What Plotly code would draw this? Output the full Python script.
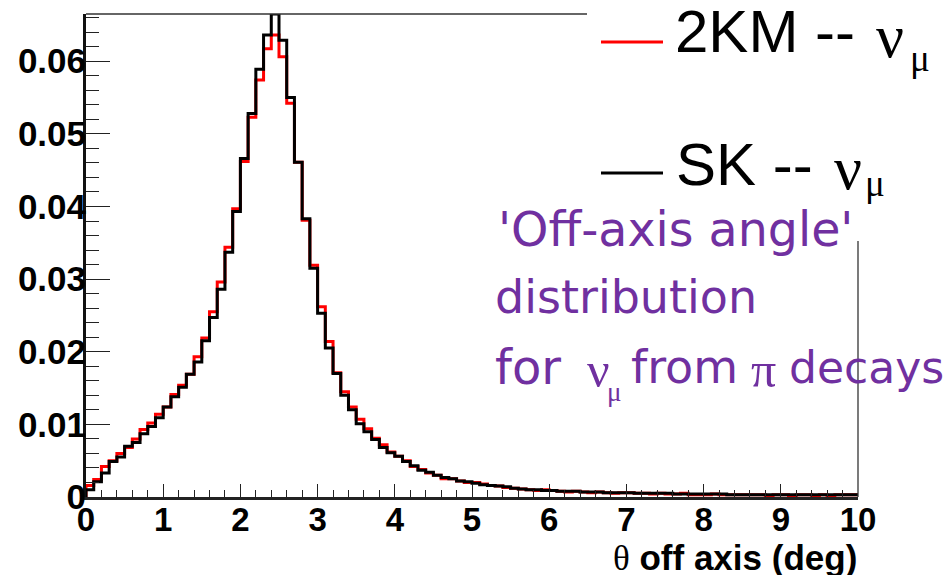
import numpy as np
import plotly.graph_objects as go

# ---------------- data ----------------
bin_width = 0.1
n_bins = 100
bin_edges = np.round(np.arange(n_bins + 1) * bin_width, 3)   # 0 .. 10 deg

sk_numu = [0.0010, 0.0021, 0.0033, 0.0049, 0.0055, 0.0070, 0.0075, 0.0087, 0.0097, 0.0109,
           0.0124, 0.0138, 0.0151, 0.0169, 0.0186, 0.0215, 0.0247, 0.0286, 0.0337, 0.0393,
           0.0466, 0.0528, 0.0589, 0.0636, 0.0665, 0.0629, 0.0550, 0.0461, 0.0383, 0.0315,
           0.0253, 0.0205, 0.0170, 0.0140, 0.0120, 0.0101, 0.0090, 0.0079, 0.0068, 0.0061,
           0.0056, 0.0049, 0.0043, 0.0037, 0.0034, 0.0030, 0.0027, 0.0025, 0.0022, 0.0021,
           0.0019, 0.0017, 0.0016, 0.0015, 0.0014, 0.0012, 0.0011, 0.0010, 0.0010, 0.0009,
           0.0009, 0.0008, 0.0008, 0.0008, 0.0007, 0.0007, 0.0007, 0.0006, 0.0006, 0.0006,
           0.0006, 0.0005, 0.0005, 0.0005, 0.0005, 0.0005, 0.0004, 0.0004, 0.0004, 0.0004,
           0.0004, 0.0004, 0.0004, 0.0003, 0.0003, 0.0003, 0.0003, 0.0003, 0.0003, 0.0003,
           0.0003, 0.0003, 0.0003, 0.0003, 0.0003, 0.0003, 0.0003, 0.0003, 0.0003, 0.0003]

km2_numu = [0.0016, 0.0024, 0.0042, 0.0050, 0.0060, 0.0068, 0.0080, 0.0093, 0.0102, 0.0114,
            0.0124, 0.0141, 0.0154, 0.0169, 0.0193, 0.0219, 0.0255, 0.0296, 0.0344, 0.0397,
            0.0462, 0.0523, 0.0574, 0.0617, 0.0636, 0.0606, 0.0542, 0.0461, 0.0381, 0.0319,
            0.0262, 0.0214, 0.0171, 0.0145, 0.0124, 0.0107, 0.0094, 0.0081, 0.0072, 0.0062,
            0.0056, 0.0050, 0.0042, 0.0038, 0.0033, 0.0030, 0.0025, 0.0025, 0.0022, 0.0020,
            0.0020, 0.0018, 0.0016, 0.0015, 0.0013, 0.0012, 0.0011, 0.0010, 0.0009, 0.0010,
            0.0009, 0.0008, 0.0007, 0.0008, 0.0007, 0.0006, 0.0007, 0.0006, 0.0005, 0.0006,
            0.0006, 0.0005, 0.0005, 0.0004, 0.0005, 0.0004, 0.0004, 0.0005, 0.0003, 0.0003,
            0.0003, 0.0004, 0.0003, 0.0003, 0.0003, 0.0003, 0.0003, 0.0003, 0.0002, 0.0003,
            0.0003, 0.0002, 0.0003, 0.0003, 0.0002, 0.0003, 0.0002, 0.0003, 0.0003, 0.0003]

x_tick_vals = [0, 1, 2, 3, 4, 5, 6, 7, 8, 9, 10]
y_tick_vals = [0, 0.01, 0.02, 0.03, 0.04, 0.05, 0.06]
y_tick_text = ["0", "0.01", "0.02", "0.03", "0.04", "0.05", "0.06"]
x_range = [0, 10]
y_range = [0, 0.0665]

legend_labels = ["2KM --", "SK --"]
x_title = "off axis (deg)"
note_lines = ["'Off-axis angle'", "distribution", "for", "from", "decays"]

# ---------------- layout geometry ----------------
W, H = 950, 575
L, R, T, B = 86, 92, 14, 78
PW, PH = W - L - R, H - T - B


def px(xp):
    return (xp - L) / PW


def py(yp):
    return (H - B - yp) / PH


def step_xy(vals):
    xs = [bin_edges[0]] + list(bin_edges[:-1]) + [bin_edges[-1]]
    ys = [0.0] + list(vals) + [vals[-1]]
    return xs, ys


fig = go.Figure()
for vals, col in [(km2_numu, "#ff0000"), (sk_numu, "#000000")]:
    xs, ys = step_xy(vals)
    fig.add_trace(go.Scatter(x=xs, y=ys, mode="lines", line=dict(color=col, width=3, shape="hv"),
                             showlegend=False, hoverinfo="skip"))

xtickfont = dict(family="Liberation Sans", size=33, color="#000000", weight="bold")
ytickfont = dict(family="Liberation Sans", size=35, color="#000000", weight="bold")

fig.update_xaxes(range=x_range, tickvals=x_tick_vals, ticks="inside", ticklen=13, tickwidth=1.2,
                 tickcolor="#222222", showline=True, linecolor="#222222", linewidth=2.5,
                 showgrid=False, zeroline=False, tickfont=xtickfont, ticklabelstandoff=-8,
                 minor=dict(dtick=0.2, ticks="inside", ticklen=7, tickwidth=1.2, tickcolor="#222222"))
fig.update_yaxes(range=y_range, tickvals=y_tick_vals, ticktext=y_tick_text, ticks="inside",
                 ticklen=24, tickwidth=1.2, tickcolor="#222222", showline=True, linecolor="#111111",
                 linewidth=3, showgrid=False, zeroline=False, tickfont=ytickfont, ticklabelstandoff=-10,
                 minor=dict(dtick=0.002, ticks="inside", ticklen=13, tickwidth=1.2, tickcolor="#222222"))

shapes = [
    # partial frame (top & right), hidden behind the legend area in the original
    dict(type="line", xref="paper", yref="paper", x0=0, x1=px(587), y0=1, y1=1,
         line=dict(color="#333333", width=1.3)),
    dict(type="line", xref="paper", yref="paper", x0=1, x1=1, y0=0, y1=py(241),
         line=dict(color="#333333", width=1.3)),
    # legend line samples
    dict(type="line", xref="paper", yref="paper", x0=px(601), x1=px(663), y0=py(42), y1=py(42),
         line=dict(color="#ff0000", width=3)),
    dict(type="line", xref="paper", yref="paper", x0=px(601), x1=px(663), y0=py(173), y1=py(173),
         line=dict(color="#000000", width=3)),
]

ann = []
serif = "Liberation Serif"
sans = "Liberation Sans"
blk = "#000000"
# legend texts
ann.append(dict(x=px(674), y=py(32), text=legend_labels[0], font=dict(family=sans, size=60, color=blk)))
ann.append(dict(x=px(875), y=py(36), text="ν", font=dict(family=serif, size=62, color=blk)))
ann.append(dict(x=px(909), y=py(58), text="μ", font=dict(family=serif, size=37, color=blk)))
ann.append(dict(x=px(675), y=py(164), text=legend_labels[1], font=dict(family=sans, size=60, color=blk)))
ann.append(dict(x=px(833), y=py(168), text="ν", font=dict(family=serif, size=62, color=blk)))
ann.append(dict(x=px(864), y=py(183), text="μ", font=dict(family=serif, size=37, color=blk)))

# purple note
purple = "#7030a0"
nf = dict(family="DejaVu Sans", size=46, color=purple)
ann.append(dict(x=px(497), y=py(230), text=note_lines[0], font=dict(family="DejaVu Sans", size=47.5, color=purple)))
ann.append(dict(x=px(494), y=py(297), text=note_lines[1], font=nf))
ann.append(dict(x=px(494), y=py(367), text=note_lines[2], font=dict(family="DejaVu Sans", size=48, color=purple)))
ann.append(dict(x=px(586), y=py(370), text="ν", font=dict(family=serif, size=50, color=purple)))
ann.append(dict(x=px(606), y=py(392), text="μ", font=dict(family=serif, size=27, color=purple)))
ann.append(dict(x=px(630), y=py(367), text=note_lines[3], font=nf))
ann.append(dict(x=px(750), y=py(370), text="π", font=dict(family=serif, size=50, color=purple)))
ann.append(dict(x=px(788), y=py(367), text=note_lines[4], font=dict(family="DejaVu Sans", size=44, color=purple)))

# x-axis title (right aligned, ROOT style)
ann.append(dict(x=1.0, y=py(558), xanchor="right",
                text=f'<span style="font-family:{serif};font-weight:normal">θ</span><b> {x_title}</b>',
                font=dict(family=sans, size=35, color=blk)))

for a in ann:
    a.setdefault("xanchor", "left")
    a.update(xref="paper", yref="paper", yanchor="middle", showarrow=False, borderpad=0)

fig.update_layout(width=W, height=H, margin=dict(l=L, r=R, t=T, b=B),
                  paper_bgcolor="white", plot_bgcolor="white",
                  shapes=shapes, annotations=ann, showlegend=False)

fig.write_html("out.html")
